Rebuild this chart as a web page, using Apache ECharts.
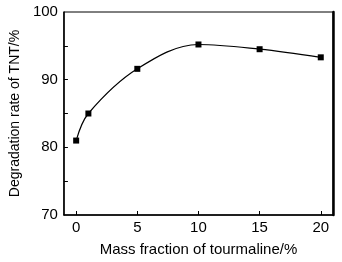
<!DOCTYPE html>
<html>
<head>
<meta charset="utf-8">
<script src="https://cdn.jsdelivr.net/npm/echarts@6/dist/echarts.min.js"></script>
<style>
  html, body { margin: 0; padding: 0; background: #fff; }
  #chart { width: 342px; height: 262px; }
</style>
</head>
<body>
<div id="chart"></div>
<script>
// tourmaline mass fraction (%) vs TNT degradation (%)
var massFraction = [0, 1, 5, 10, 15, 20];
var degradation = [81.0, 85.0, 91.6, 95.2, 94.5, 93.3];
var xTicks = [0, 5, 10, 15, 20];
var yLabels = [70, 80, 90, 100];
var yTicks = [75, 80, 85, 90, 95];

var points = massFraction.map(function (x, i) { return [x, degradation[i]]; });

var myChart = echarts.init(document.getElementById('chart'));
var font = 'Liberation Sans, Arial, sans-serif';
var option = {
    animation: false,
    grid: {
        left: 62, right: 9, top: 12, bottom: 46,
        show: true, borderColor: '#000', borderWidth: 1
    },
    xAxis: {
        type: 'value',
        min: -1, max: 21,
        name: 'Mass fraction of tourmaline/%',
        nameLocation: 'middle',
        nameGap: 27,
        nameTextStyle: { fontFamily: font, fontSize: 15, color: '#000' },
        axisLine: { onZero: false, lineStyle: { color: '#000', width: 1.5 } },
        axisTick: { inside: true, length: 4, customValues: xTicks, lineStyle: { color: '#000' } },
        axisLabel: { customValues: xTicks, fontFamily: font, fontSize: 15, color: '#000', margin: 5 },
        splitLine: { show: false }
    },
    yAxis: [{
        type: 'value',
        min: 70, max: 100,
        name: 'Degradation rate of TNT/%',
        nameLocation: 'middle',
        nameGap: 32,
        nameTextStyle: { fontFamily: font, fontSize: 14, color: '#000' },
        axisLine: { onZero: false, lineStyle: { color: '#000', width: 1.5 } },
        axisTick: { inside: true, length: 4, customValues: yTicks, lineStyle: { color: '#000' } },
        axisLabel: { customValues: yLabels, fontFamily: font, fontSize: 15, color: '#000', margin: 6 },
        splitLine: { show: false }
    }, {
        type: 'value',
        min: 70, max: 100,
        position: 'right',
        axisLine: { show: true, onZero: false, lineStyle: { color: '#000', width: 2.5 } },
        axisTick: { show: false },
        axisLabel: { show: false },
        splitLine: { show: false }
    }],
    series: [{
        type: 'line',
        data: points,
        smooth: 0.35,
        symbol: 'rect',
        symbolSize: 6,
        itemStyle: { color: '#000' },
        lineStyle: { color: '#000', width: 1.2 }
    }]
};
myChart.setOption(option);
</script>
</body>
</html>
